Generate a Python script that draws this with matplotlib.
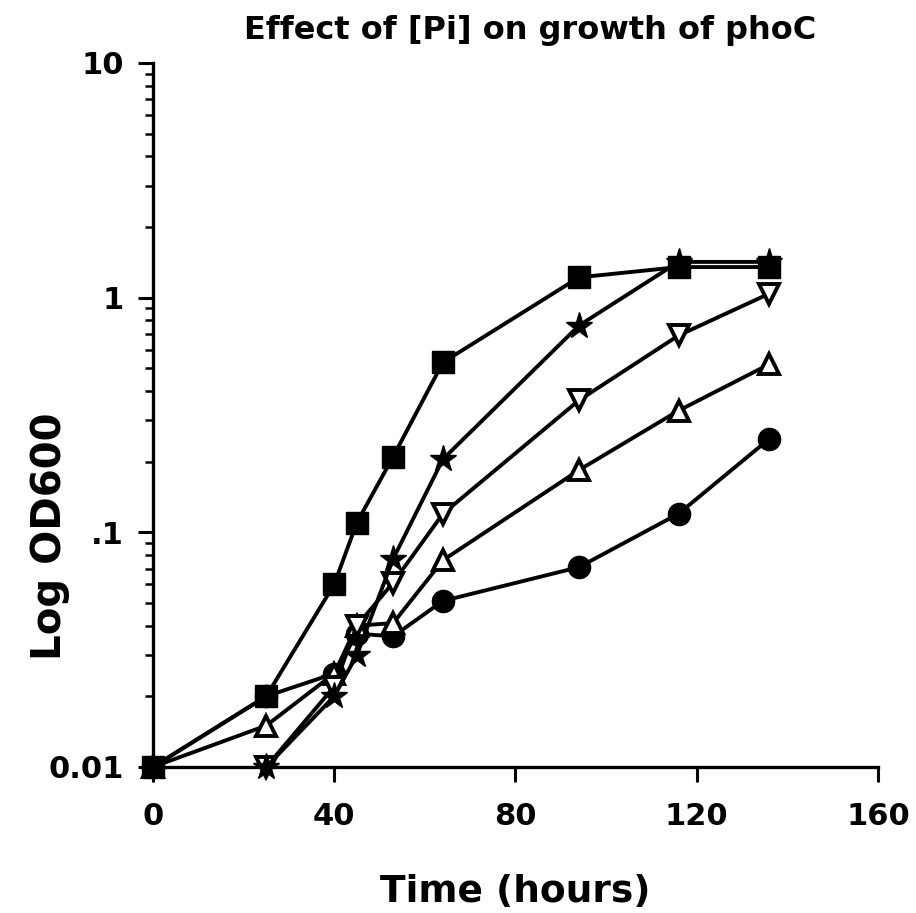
import matplotlib
matplotlib.use("Agg")
from matplotlib import pyplot as plt

plt.rcParams['font.family'] = ['DejaVu Sans']
plt.rcParams['font.weight'] = 'bold'

# sampling times (hours)
hours = [0, 25, 40, 45, 53, 64, 94, 116, 136]
hours_late = [25, 40, 45, 53, 64, 94, 116, 136]

# OD600 readings for each phosphate level
od_square = [0.01, 0.02, 0.06, 0.11, 0.21, 0.53, 1.22, 1.35, 1.35]
od_star = [0.01, 0.02, 0.03, 0.077, 0.205, 0.76, 1.42, 1.42]
od_down = [0.01, 0.022, 0.04, 0.061, 0.12, 0.365, 0.69, 1.04]
od_up = [0.01, 0.015, 0.025, 0.04, 0.041, 0.076, 0.184, 0.33, 0.52]
od_circle = [0.01, 0.02, 0.025, 0.037, 0.036, 0.051, 0.071, 0.12, 0.25]

fig = plt.figure(figsize=(9.16, 9.13), dpi=100)
ax = fig.add_axes([0.167, 0.160, 0.7915, 0.771])

lw = 2.8
style = dict(color='black', lw=lw, clip_on=False)
ax.plot(hours, od_circle, '-o', ms=16, zorder=3, **style)
ax.plot(hours, od_up, '-^', ms=15, mfc='white', mec='black', mew=2.8,
        zorder=3, **style)
ax.plot(hours_late, od_down, '-v', ms=15, mfc='white', mec='black', mew=2.8,
        zorder=3, **style)
ax.plot(hours_late, od_star, '-*', ms=20, zorder=3, **style)
ax.plot(hours, od_square, '-s', ms=16, zorder=4, **style)

ax.set_yscale('log')
ax.set_xlim(0, 160)
ax.set_ylim(0.01, 10)
ax.set_xticks([0, 40, 80, 120, 160])
ax.set_xticklabels(['0', '40', '80', '120', '160'])
ax.set_yticks([0.01, 0.1, 1, 10])
ax.set_yticklabels(['0.01', '.1', '1', '10'])

for s in ['top', 'right']:
    ax.spines[s].set_visible(False)
for s in ['left', 'bottom']:
    ax.spines[s].set_linewidth(2.4)

ax.tick_params(axis='both', which='major', length=11, width=2.2,
               labelsize=22, pad=10)
ax.tick_params(axis='y', which='minor', length=6, width=1.8)
ax.tick_params(axis='x', pad=14)

# axis titles placed in figure pixels
fig.text(515 / 916, 1 - 902 / 913, 'Time (hours)', fontsize=27,
         fontweight='bold', ha='center', va='baseline')
fig.text(50 / 916, 1 - 412 / 913, 'Log OD600', fontsize=29,
         fontweight='bold', ha='right', va='center', rotation=90,
         rotation_mode='anchor')
fig.text(530 / 916, 1 - 39 / 913, 'Effect of [Pi] on growth of phoC',
         fontsize=23, fontweight='bold', ha='center', va='baseline')

fig.savefig('out.png', dpi=100)
